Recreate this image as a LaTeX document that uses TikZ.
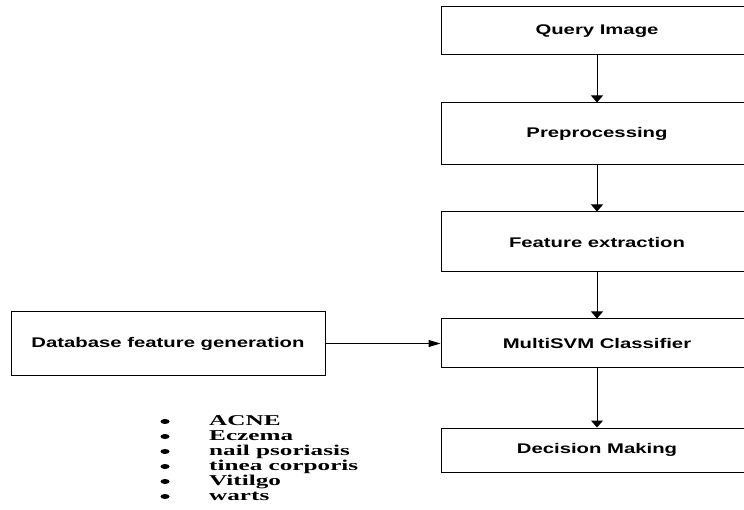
\documentclass[tikz,border=0pt]{standalone}
\usepackage{fontspec}
\usetikzlibrary{arrows.meta}
\newfontfamily\boxfont{Liberation Sans}[FakeStretch=1.45]
\newfontfamily\listfont{Liberation Serif}[FakeStretch=1.68]
\begin{document}
\begin{tikzpicture}[x=1pt,y=-1pt,
    stage/.style={draw,line width=1pt,minimum width=312pt,inner sep=0pt,
        font=\boxfont\bfseries\fontsize{14}{16}\selectfont},
    flow/.style={line width=1pt,-{Triangle[width=12pt,length=7pt]}},
    disease/.style={anchor=base west,inner sep=0pt,
        font=\listfont\bfseries\fontsize{15}{15}\selectfont}]
    \useasboundingbox (0,0) rectangle (744,510);
    \clip (0,0) rectangle (744,510);
    % Pipeline boxes
    \node[stage,minimum height=48pt] (query) at (597,31) {Query Image};
    \node[stage,minimum height=62pt] (prep) at (597,134) {Preprocessing};
    \node[stage,minimum height=60pt] (feat) at (597,242) {Feature extraction};
    \node[stage,minimum height=49pt] (svm) at (597,343.5) {MultiSVM Classifier};
    \node[stage,minimum height=44pt] (decide) at (597,450) {Decision Making};
    % Database box
    \node[stage,minimum width=314pt,minimum height=64pt] (dbgen) at (168,343.5) {Database feature generation};
    % Arrows
    \draw[flow] (query) -- (prep);
    \draw[flow] (prep) -- (feat);
    \draw[flow] (feat) -- (svm);
    \draw[flow] (svm) -- (decide);
    \draw[line width=1pt,-{Triangle[width=7pt,length=12pt]}] (dbgen) -- (svm);
    % Disease list
    \foreach \name [count=\i] in {ACNE,Eczema,nail psoriasis,tinea corporis,Vitilgo,warts}{
        \node[disease] (item\i) at (209,410+15*\i) {\name};
        \fill (165,406.5+15*\i) ellipse (4.5 and 2.5);
    }
\end{tikzpicture}
\end{document}
